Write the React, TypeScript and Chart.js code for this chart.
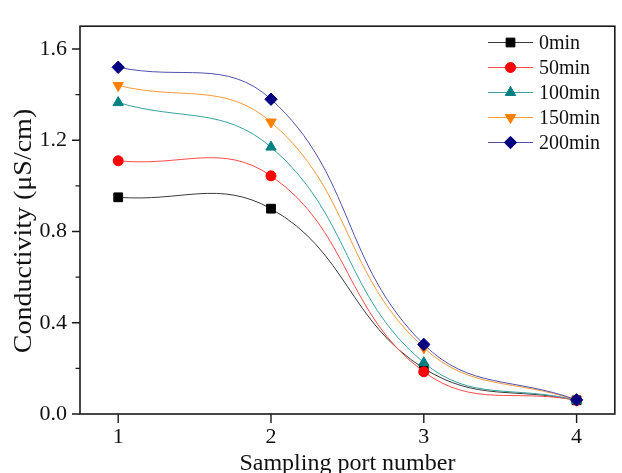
import React, { useEffect, useRef } from 'react';
import { Chart, registerables } from 'chart.js';
import { drawPoint } from 'chart.js/helpers';

Chart.register(...registerables);

const ports = [1, 2, 3, 4];
const seriesLabels = ['0min', '50min', '100min', '150min', '200min'];
const values0 = [0.95, 0.9, 0.2, 0.06];
const values50 = [1.11, 1.044, 0.185, 0.06];
const values100 = [1.365, 1.17, 0.225, 0.06];
const values150 = [1.44, 1.28, 0.29, 0.06];
const values200 = [1.52, 1.38, 0.305, 0.062];
const allValues = [values0, values50, values100, values150, values200];

const markerColors = ['#000000', '#ff0000', '#008080', '#ff8000', '#000080'];
const lineColors = ['#3a3a3a', '#ff4a4a', '#3aa0a0', '#ff9a3a', '#5050aa'];
const pointStyles = ['rect', 'circle', 'triangle', 'triangle', 'rectRot'];
const pointRotations = [0, 0, 0, 180, 0];
const pointRadii = [6.2, 5, 6, 6, 6.2];

const xTickValues = [1, 2, 3, 4];
const yTickValues = [0, 0.2, 0.4, 0.6, 0.8, 1.0, 1.2, 1.4, 1.6];
const yLabelValues = [0, 0.4, 0.8, 1.2, 1.6];

const xTitle = 'Sampling port number';
const yTitle = 'Conductivity (\u03bcS/cm)';
const FONT = '"Liberation Serif", "Times New Roman", serif';

const decorPlugin = {
  id: 'decor',
  afterDraw(chart: any) {
    const ctx = chart.ctx;
    const { left, right, top, bottom } = chart.chartArea;
    const xs = chart.scales.x;
    const ys = chart.scales.y;
    ctx.save();
    // frame
    ctx.strokeStyle = '#1a1a1a';
    ctx.lineWidth = 1.6;
    ctx.strokeRect(left, top, right - left, bottom - top);
    // ticks
    ctx.lineWidth = 1.4;
    ctx.beginPath();
    xTickValues.forEach((v) => {
      const px = xs.getPixelForValue(v);
      ctx.moveTo(px, bottom);
      ctx.lineTo(px, bottom + 9);
    });
    yTickValues.forEach((v) => {
      const py = ys.getPixelForValue(v);
      const major = yLabelValues.some((m) => Math.abs(m - v) < 1e-6);
      ctx.moveTo(left, py);
      ctx.lineTo(left - (major ? 8 : 4.5), py);
    });
    ctx.stroke();
    // titles
    ctx.fillStyle = '#111';
    ctx.font = `24px ${FONT}`;
    ctx.textAlign = 'center';
    ctx.textBaseline = 'alphabetic';
    ctx.fillText(xTitle, (left + right) / 2, 470);
    ctx.save();
    ctx.translate(31, 231);
    ctx.rotate(-Math.PI / 2);
    ctx.scale(1.12, 1);
    ctx.font = `25px ${FONT}`;
    ctx.fillText(yTitle, 0, 0);
    ctx.restore();
    // legend
    const lx0 = 488;
    const lx1 = 533;
    const ly0 = 42.5;
    const step = 25;
    ctx.font = `20px ${FONT}`;
    ctx.textAlign = 'left';
    ctx.textBaseline = 'middle';
    seriesLabels.forEach((lab, i) => {
      const y = ly0 + i * step;
      ctx.strokeStyle = lineColors[i];
      ctx.lineWidth = 1;
      ctx.beginPath();
      ctx.moveTo(lx0, y);
      ctx.lineTo(lx1, y);
      ctx.stroke();
      ctx.fillStyle = markerColors[i];
      ctx.strokeStyle = markerColors[i];
      drawPoint(ctx, {
        pointStyle: pointStyles[i],
        radius: pointRadii[i],
        rotation: pointRotations[i],
        borderWidth: 1,
      } as any, (lx0 + lx1) / 2, y);
      ctx.fillStyle = '#111';
      ctx.fillText(lab, 539, y + 1);
    });
    ctx.restore();
  },
};

export default function App() {
  const ref = useRef<HTMLCanvasElement | null>(null);
  useEffect(() => {
    if (!ref.current) return;
    const datasets = allValues.map((vals, i) => ({
      label: seriesLabels[i],
      data: ports.map((p, j) => ({ x: p, y: vals[j] })),
      borderColor: lineColors[i],
      borderWidth: 1,
      backgroundColor: markerColors[i],
      pointBackgroundColor: markerColors[i],
      pointBorderColor: markerColors[i],
      pointBorderWidth: 1,
      pointStyle: pointStyles[i],
      pointRotation: pointRotations[i],
      pointRadius: pointRadii[i],
      tension: 0.42,
      fill: false,
      order: allValues.length - 1 - i,
    }));
    const chart = new Chart(ref.current, {
      type: 'line',
      data: { datasets },
      options: {
        animation: false,
        responsive: false,
        devicePixelRatio: 1,
        layout: { padding: { top: 12, right: 3.5, left: 0, bottom: 0 } },
        plugins: {
          legend: { display: false },
          tooltip: { enabled: false },
        },
        scales: {
          x: {
            type: 'linear',
            min: 0.75,
            max: 4.25,
            afterBuildTicks: (scale: any) => {
              scale.ticks = xTickValues.map((v) => ({ value: v }));
            },
            afterFit: (scale: any) => {
              scale.height = 59;
            },
            grid: { display: false, drawTicks: false, tickLength: 0 },
            border: { display: false },
            ticks: {
              padding: 10,
              color: '#111',
              font: { family: FONT, size: 22 },
              callback: (v: any) => String(v),
              maxRotation: 0,
            },
          },
          y: {
            type: 'linear',
            min: 0,
            max: 1.7,
            afterBuildTicks: (scale: any) => {
              scale.ticks = yTickValues.map((v) => ({ value: v }));
            },
            afterFit: (scale: any) => {
              scale.width = 80;
            },
            grid: { display: false, drawTicks: false, tickLength: 0 },
            border: { display: false },
            ticks: {
              padding: 13,
              color: '#111',
              font: { family: FONT, size: 22 },
              callback: (v: any) => {
                const n = Number(v);
                return yLabelValues.some((m) => Math.abs(m - n) < 1e-6) ? n.toFixed(1) : '';
              },
            },
          },
        },
      },
      plugins: [decorPlugin],
    });
    return () => chart.destroy();
  }, []);
  return (
    <div style={{ position: 'absolute', left: 0, top: 0, width: 622, height: 473, background: '#fff' }}>
      <canvas ref={ref} width={622} height={473} style={{ display: 'block', width: 622, height: 473 }} />
    </div>
  );
}
